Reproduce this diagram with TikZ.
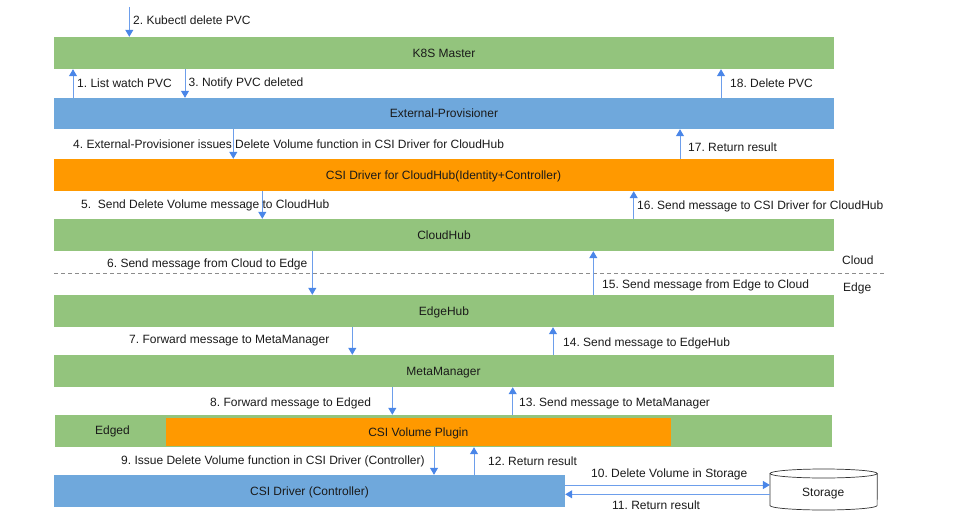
\documentclass[tikz,border=0pt]{standalone}
\usepackage{fontspec}
\setmainfont{Liberation Sans}
\usetikzlibrary{arrows.meta}
\definecolor{bgreen}{HTML}{93C47D}
\definecolor{bblue}{HTML}{6FA8DC}
\definecolor{borange}{HTML}{FF9900}
\definecolor{arrc}{HTML}{6D9EEB}
\definecolor{headc}{HTML}{4A86E8}
\definecolor{txt}{HTML}{1A1A1A}
\frenchspacing
\begin{document}
\begin{tikzpicture}[x=1pt,y=-1pt,
  font=\fontsize{12}{14}\selectfont, text=txt,
  bar/.style={draw=none, inner sep=0pt, minimum height=32pt, text height=8.6pt, text depth=0pt},
  lbl/.style={anchor=base west, inner sep=0pt},
  arr/.style={draw=arrc, line width=1pt, -{Triangle[length=7pt,width=8pt,fill=headc,color=headc]}}]
\useasboundingbox (0,0) rectangle (955,524);
% bars
\node[bar, fill=bgreen, minimum width=780pt] (k8s) at (444,53) {K8S Master};
\node[bar, fill=bblue, minimum width=780pt, minimum height=31pt] (ext) at (444,113.5) {External-Provisioner};
\node[bar, fill=borange, minimum width=780pt] (csih) at (443.5,175) {CSI Driver for CloudHub(Identity+Controller)};
\node[bar, fill=bgreen, minimum width=780pt] (ch) at (444,235) {CloudHub};
\node[bar, fill=bgreen, minimum width=780pt] (eh) at (444,311) {EdgeHub};
\node[bar, fill=bgreen, minimum width=780pt] (mm) at (443.5,371) {MetaManager};
\node[bar, fill=bgreen, minimum width=777pt] (ed) at (443.5,431) {};
\node[inner sep=0pt, anchor=base] (edl) at (112.5,434.3) {Edged};
\node[bar, fill=borange, minimum width=505pt, minimum height=27.5pt] (cvp) at (418.3,431.8) {CSI Volume Plugin};
\node[bar, fill=bblue, minimum width=511pt, minimum height=32pt] (csic) at (309.5,491) {CSI Driver (Controller)};
% storage cylinder
\node[inner sep=0pt, minimum width=107pt, minimum height=41pt] (stor) at (823.6,489.5) {};
\draw[line width=0.7pt, black!80] (stor.west |- 0,473.5) -- (stor.west |- 0,505.5)
   arc[start angle=180, end angle=360, x radius=53.6pt, y radius=4.5pt] -- (stor.east |- 0,473.5);
\draw[line width=0.7pt, black!80] (stor.center |- 0,473.5) ellipse[x radius=53.6pt, y radius=4.5pt];
\node[inner sep=0pt, anchor=base] at (823.2,496) {Storage};
% dashed boundary
\coordinate (dl) at (54,273.3);
\coordinate (dr) at (886,273.3);
\draw[line width=0.7pt, black!45, dash pattern=on 4pt off 3pt] (dl) -- (dr);
\node[lbl] at (842,264.5) {Cloud};
\node[lbl] at (843,291.5) {Edge};
% top incoming arrow
\coordinate (kin) at (129.3,7);
\draw[arr] (kin) -- (k8s.north -| 129.3,0);
\node[lbl] at (133,25) {2. Kubectl delete PVC};
% arrows between bars
\draw[arr] (ext.north -| 73,0) -- (k8s.south -| 73,0);
\node[lbl] at (77,88) {1. List watch PVC};
\draw[arr] (k8s.south -| 185,0) -- (ext.north -| 185,0);
\node[lbl] at (188.5,87) {3. Notify PVC deleted};
\draw[arr] (ext.north -| 721,0) -- (k8s.south -| 721,0);
\node[lbl] at (730,88) {18. Delete PVC};

\draw[arr] (ext.south -| 233.3,0) -- (csih.north -| 233.3,0);
\node[lbl] at (73,149) {4. External-Provisioner issues Delete Volume function in CSI Driver for CloudHub};
\draw[arr] (csih.north -| 680,0) -- (ext.south -| 680,0);
\node[lbl] at (688,151) {17. Return result};

\draw[arr] (csih.south -| 262.3,0) -- (ch.north -| 262.3,0);
\node[lbl] at (81,208) {5.\ \ Send Delete Volume message to CloudHub};
\draw[arr] (ch.north -| 633.7,0) -- (csih.south -| 633.7,0);
\node[lbl] at (637,209) {16. Send message to CSI Driver for CloudHub};

\draw[arr] (ch.south -| 312.3,0) -- (eh.north -| 312.3,0);
\node[lbl] at (107,267.5) {6. Send message from Cloud to Edge};
\draw[arr] (eh.north -| 593.3,0) -- (ch.south -| 593.3,0);
\node[lbl] at (602,288.3) {15. Send message from Edge to Cloud};

\draw[arr] (eh.south -| 352.3,0) -- (mm.north -| 352.3,0);
\node[lbl] at (129,343.3) {7. Forward message to MetaManager};
\draw[arr] (mm.north -| 553,0) -- (eh.south -| 553,0);
\node[lbl] at (563,346) {14. Send message to EdgeHub};

\draw[arr] (mm.south -| 392.3,0) -- (ed.north -| 392.3,0);
\node[lbl] at (210,406) {8. Forward message to Edged};
\draw[arr] (ed.north -| 512.7,0) -- (mm.south -| 512.7,0);
\node[lbl] at (519,406) {13. Send message to MetaManager};

\draw[arr] (ed.south -| 434,0) -- (csic.north -| 434,0);
\node[lbl] at (121,464.5) {9. Issue Delete Volume function in CSI Driver (Controller)};
\draw[arr] (csic.north -| 474,0) -- (ed.south -| 474,0);
\node[lbl] at (488,465.5) {12. Return result};

\draw[arr] (csic.east |- 0,485) -- (stor.west |- 0,485);
\node[lbl] at (591,477) {10. Delete Volume in Storage};
\draw[arr] (stor.west |- 0,494.3) -- (csic.east |- 0,494.3);
\node[lbl] at (612,509) {11. Return result};
\end{tikzpicture}
\end{document}
